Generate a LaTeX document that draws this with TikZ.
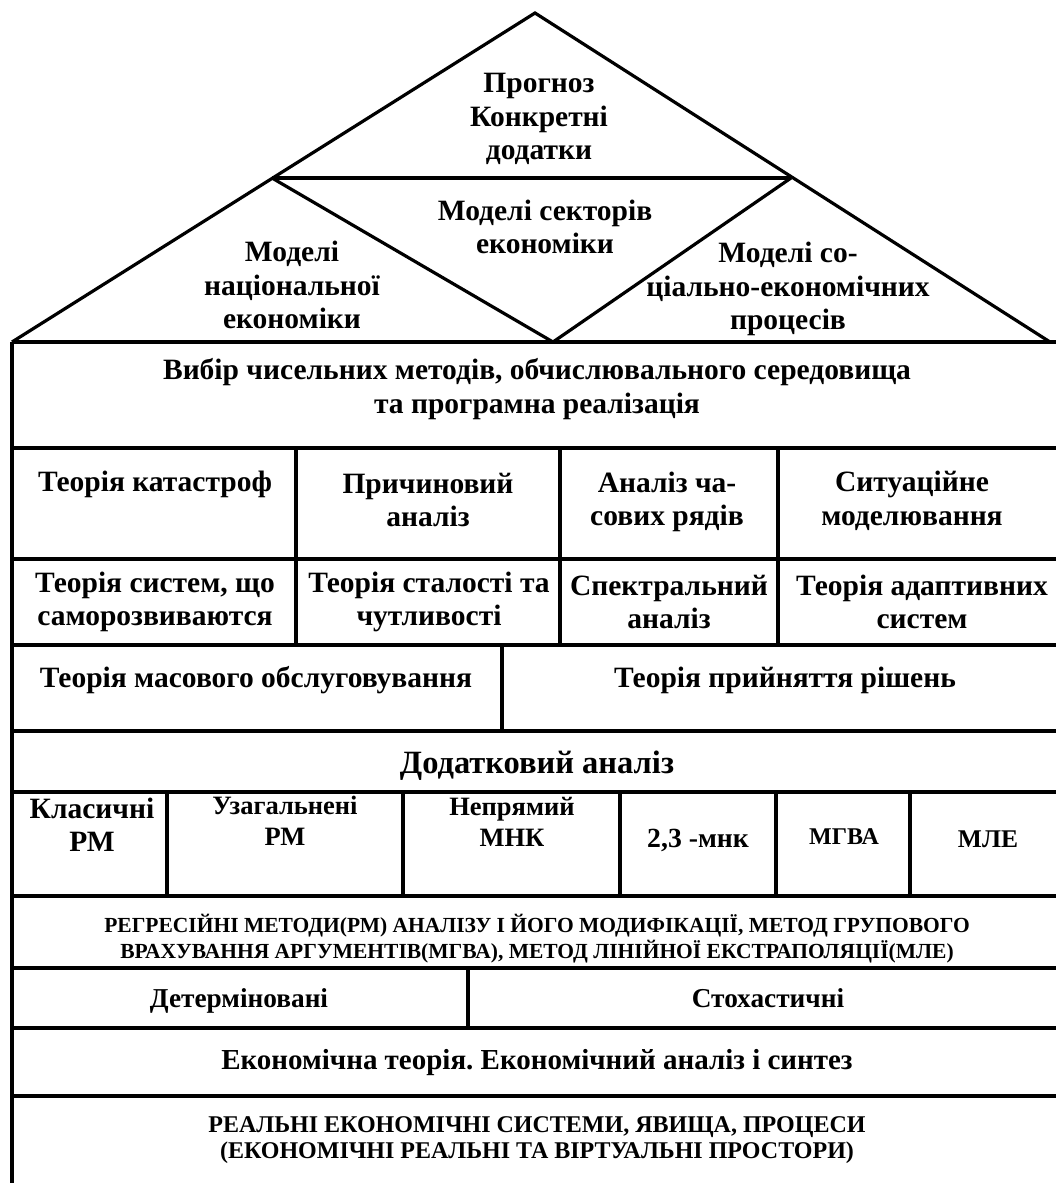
\documentclass[tikz,border=0pt]{standalone}
\usepackage{fontspec}
\setmainfont{Liberation Serif}
\frenchspacing
\tikzset{
  wall/.style={line width=3.2pt},
  label/.style={align=center, inner sep=0pt, font=\bfseries\fontsize{29.5}{33.5}\selectfont},
  heading/.style={align=center, inner sep=0pt, font=\bfseries\fontsize{32.5}{36}\selectfont},
  method/.style={align=center, inner sep=0pt, font=\bfseries\fontsize{26.5}{31}\selectfont},
  kind/.style={align=center, inner sep=0pt, font=\bfseries\fontsize{27.3}{31}\selectfont},
  capsmall/.style={align=center, inner sep=0pt, font=\bfseries\fontsize{21.5}{26}\selectfont},
  capbig/.style={align=center, inner sep=0pt, font=\bfseries\fontsize{24}{26}\selectfont},
}
\begin{document}
\begin{tikzpicture}[x=1pt,y=-1pt]
  \useasboundingbox (0,0) rectangle (1056,1183);
  % roof
  \draw[wall] (12,342) -- (535,13) -- (1050,342);
  \draw[wall] (272,178) -- (791,178);
  \draw[wall] (272,178) -- (553,342) -- (791,178);
  % body
  \draw[wall] (12,342) -- (1056,342);
  \draw[wall] (12,342) -- (12,1183);
  \foreach \y in {448,559,645,731,792,896,968,1028,1096}
    \draw[wall] (12,\y) -- (1056,\y);
  \foreach \x in {296,560,778}
    \draw[wall] (\x,448) -- (\x,645);
  \draw[wall] (502,645) -- (502,731);
  \foreach \x in {167,403,620,776,910}
    \draw[wall] (\x,792) -- (\x,896);
  \draw[wall] (468,968) -- (468,1028);

  \node[label] (FORE) at (539,119) {Прогноз\\Конкретні\\додатки};
  \node[label] (NAT) at (292,285) {Моделі\\національної\\економіки};
  \node[label] (SECT) at (545,227) {Моделі секторів\\економіки};
  \node[label] (SOC) at (788,289) {Моделі со-\\ціально-економічних\\процесів};
  \node[label] (NUM) at (537,389) {Вибір чисельних методів, обчислювального середовища\\та програмна реалізація};

  \node[label] (CAT) at (155,484) {Теорія катастроф};
  \node[label] (CAUS) at (428,500) {Причиновий\\аналіз};
  \node[label] (TSER) at (667,502) {Аналіз ча-\\сових рядів};
  \node[label] (SIT) at (912,501) {Ситуаційне\\моделювання};
  \node[label] (SELF) at (155,602) {Теорія систем, що\\саморозвиваются};
  \node[label] (STAB) at (429,602) {Теорія сталості та\\чутливості};
  \node[label] (SPEC) at (669,602) {Спектральний\\аналіз};
  \node[label] (ADAPT) at (922,602) {Теорія адаптивних\\систем};
  \node[label] (QUEUE) at (256,680) {Теорія масового обслуговування};
  \node[label] (DEC) at (785,680) {Теорія прийняття рішень};

  \node[heading] (ADD) at (537,766) {Додатковий аналіз};
  \node[label] (CLS) at (92,825) {Класичні\\РМ};
  \node[method] (GEN) at (285,821) {Узагальнені\\РМ};
  \node[method] (IND) at (512,822) {Непрямий\\МНК};
  \node[method, font=\bfseries\fontsize{27.7}{31}\selectfont] (MNK) at (698,840) {2,3 -мнк};
  \node[method, font=\bfseries\fontsize{24}{31}\selectfont] (GMDH) at (844,837) {МГВА};
  \node[method, font=\bfseries\fontsize{25.5}{31}\selectfont] (EXTR) at (988,839) {МЛЕ};

  \node[capsmall] (REG) at (537,939) {РЕГРЕСІЙНІ МЕТОДИ(РМ) АНАЛІЗУ І ЙОГО МОДИФІКАЦІЇ, МЕТОД ГРУПОВОГО\\ВРАХУВАННЯ АРГУМЕНТІВ(МГВА), МЕТОД ЛІНІЙНОЇ ЕКСТРАПОЛЯЦІЇ(МЛЕ)};
  \node[kind] (DET) at (239,1001) {Детерміновані};
  \node[kind] (STO) at (768,998) {Стохастичні};
  \node[label, font=\bfseries\fontsize{29}{33}\selectfont] (ECON) at (537,1063) {Економічна теорія. Економічний аналіз і синтез};
  \node[capbig] (REAL) at (537,1140) {РЕАЛЬНІ ЕКОНОМІЧНІ СИСТЕМИ, ЯВИЩА, ПРОЦЕСИ\\(ЕКОНОМІЧНІ РЕАЛЬНІ ТА ВІРТУАЛЬНІ ПРОСТОРИ)};
\end{tikzpicture}
\end{document}
